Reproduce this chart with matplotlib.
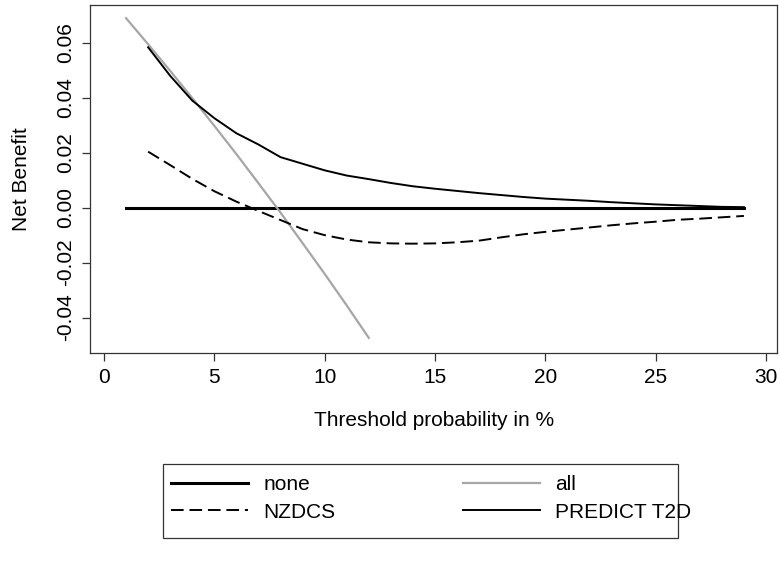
import matplotlib.pyplot as plt
from matplotlib.patches import Rectangle

plt.rcParams['font.family'] = ['Liberation Sans', 'DejaVu Sans']

# threshold probability (%) and net benefit readings
thr_all = [1, 2, 3, 4, 5, 6, 7, 8, 9, 10, 11, 12]
nb_all = [0.0690, 0.0595, 0.0498, 0.0399, 0.0298, 0.0195, 0.0089,
          -0.0018, -0.0129, -0.0241, -0.0356, -0.0474]

thr_none = [1, 29]
nb_none = [0.0, 0.0]

thr_model = list(range(2, 30))
nb_nzdcs = [0.0204, 0.0155, 0.0105, 0.0060, 0.0022, -0.0012, -0.0045,
            -0.0078, -0.0100, -0.0116, -0.0126, -0.0130, -0.0131, -0.0130,
            -0.0126, -0.0120, -0.0108, -0.0097, -0.0088, -0.0080, -0.0072,
            -0.0064, -0.0057, -0.0051, -0.0044, -0.0040, -0.0035, -0.0030]
nb_predict = [0.0584, 0.0480, 0.0390, 0.0326, 0.0271, 0.0230, 0.0184,
              0.0160, 0.0136, 0.0117, 0.0104, 0.0090, 0.0078, 0.0069,
              0.0061, 0.0053, 0.0046, 0.0039, 0.0033, 0.0029, 0.0025,
              0.0020, 0.0016, 0.0012, 0.0009, 0.0006, 0.0003, 0.0002]

xticks = [0, 5, 10, 15, 20, 25, 30]
yticks = [-0.04, -0.02, 0.00, 0.02, 0.04, 0.06]

FS = 15

fig = plt.figure(figsize=(7.8, 5.65), dpi=100)
ax = fig.add_axes([90 / 780, 1 - 352.7 / 565, 687 / 780, 347.7 / 565])

h_none, = ax.plot(thr_none, nb_none, color='black', lw=2.2, label='none')
h_all, = ax.plot(thr_all, nb_all, color='#a6a6a6', lw=1.6, label='all')
h_nz, = ax.plot(thr_model, nb_nzdcs, color='black', lw=1.4,
                linestyle=(0, (6.5, 3)), label='NZDCS')
h_pr, = ax.plot(thr_model, nb_predict, color='black', lw=1.4,
                label='PREDICT T2D')

ax.set_xlim(-0.635, 30.5)
ax.set_ylim(-0.0528, 0.0738)
ax.set_xticks(xticks)
ax.set_yticks(yticks)
ax.set_xticklabels([str(t) for t in xticks])
ax.set_yticklabels(['%.2f' % t for t in yticks], rotation=90, va='center')
ax.tick_params(labelsize=FS, length=6, width=0.9, color='#333333', pad=5)
for s in ax.spines.values():
    s.set_linewidth(0.9)
    s.set_color('#333333')

ax.set_ylabel('Net Benefit', fontsize=FS)
ax.yaxis.set_label_coords(-0.0865, 0.5)
fig.text(434 / 780, 1 - 420 / 565, 'Threshold probability in %',
         fontsize=FS, ha='center', va='center')

# legend box
fig.patches.append(Rectangle((163 / 780, 1 - 538 / 565), 515 / 780, 74 / 565,
                             transform=fig.transFigure, fill=False,
                             edgecolor='#333333', lw=0.9))
fig.legend([h_none, h_nz, h_all, h_pr],
           ['none', 'NZDCS', 'all', 'PREDICT T2D'],
           ncol=2, frameon=False, fontsize=FS, loc='upper left',
           bbox_to_anchor=(165 / 780, 1 - 469 / 565),
           handlelength=3.7, handletextpad=0.72, columnspacing=6.1,
           labelspacing=0.41, borderaxespad=0, borderpad=0.3)

fig.savefig('out.png', dpi=100)
